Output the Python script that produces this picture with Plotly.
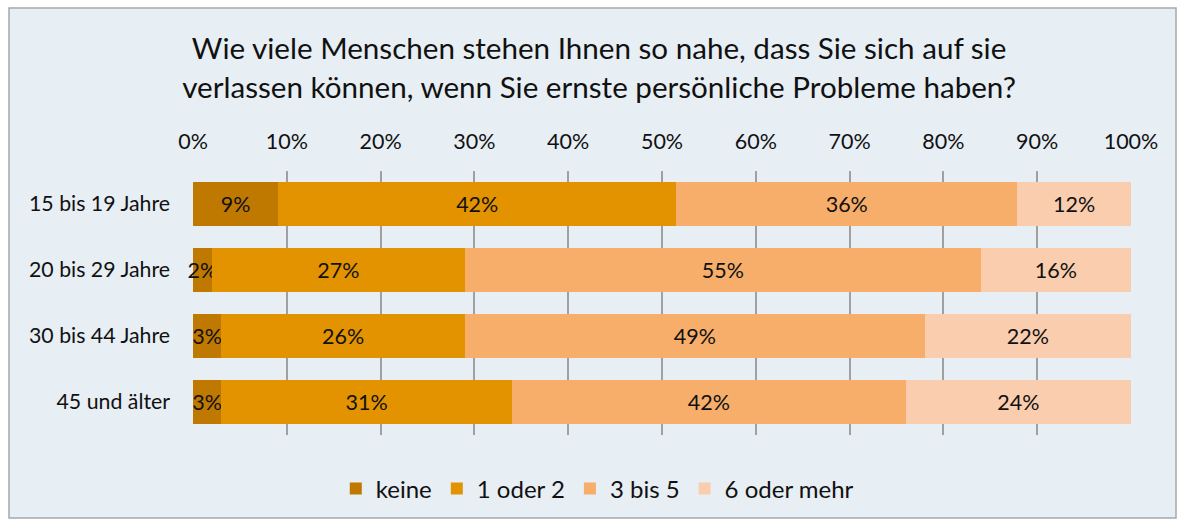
import plotly.graph_objects as go

categories = ["15 bis 19 Jahre", "20 bis 29 Jahre", "30 bis 44 Jahre", "45 und älter"]
keine = [9, 2, 3, 3]
eins_zwei = [42, 27, 26, 31]
drei_fuenf = [36, 55, 49, 42]
sechs_mehr = [12, 16, 22, 24]
series_names = ["keine", "1 oder 2", "3 bis 5", "6 oder mehr"]
tick_values = [0, 10, 20, 30, 40, 50, 60, 70, 80, 90, 100]
tick_labels = ["0%", "10%", "20%", "30%", "40%", "50%", "60%", "70%", "80%", "90%", "100%"]

colors = ["#BF7800", "#E39300", "#F6AE6A", "#F9CDAE"]
FONT = "Lato, Arial, sans-serif"

fig = go.Figure()
for name, vals, col in zip(series_names, [keine, eins_zwei, drei_fuenf, sechs_mehr], colors):
    fig.add_trace(go.Bar(
        name=name,
        y=categories,
        x=vals,
        orientation="h",
        marker=dict(color=col, line=dict(width=0)),
        text=[f"{v}%" for v in vals],
        textposition="inside",
        insidetextanchor="middle",
        textangle=0,
        constraintext="none",
        cliponaxis=False,
        textfont=dict(family=FONT, size=21.5, color="#111111"),
        hoverinfo="skip",
    ))

# chart frame behind everything
fig.add_shape(type="rect", xref="paper", yref="paper",
              x0=(9 - 193) / 938, x1=(1176 - 193) / 938,
              y0=(435 - 518) / 264, y1=(435 - 8) / 264,
              fillcolor="#E7EEF4", line=dict(color="#A8A8A8", width=1.5),
              layer="below")

fig.update_layout(
    barmode="stack",
    barnorm="percent",
    bargap=0.33,
    width=1184, height=525,
    margin=dict(l=193, r=53, t=171, b=90),
    paper_bgcolor="white",
    plot_bgcolor="rgba(0,0,0,0)",
    font=dict(family=FONT, color="#111111"),
    title=dict(
        text="Wie viele Menschen stehen Ihnen so nahe, dass Sie sich auf sie<br>verlassen können, wenn Sie ernste persönliche Probleme haben?",
        x=0.506, xref="container", xanchor="center",
        y=0.887, yref="container", yanchor="middle",
        font=dict(family=FONT, size=29.6, color="#111111"),
    ),
    xaxis=dict(
        side="top", range=[0, 100.001],
        tickvals=tick_values, ticktext=tick_labels,
        tickfont=dict(family=FONT, size=21.5, color="#111111"),
        showgrid=True, gridcolor="#A0A0A0", gridwidth=1.5,
        zeroline=False, showline=False, ticks="", ticklabelstandoff=17,
    ),
    yaxis=dict(
        categoryorder="array", categoryarray=categories, autorange="reversed",
        tickfont=dict(family=FONT, size=21.3, color="#111111"),
        showgrid=False, zeroline=False, showline=False, ticks="",
        ticklabelstandoff=22,
    ),
    legend=dict(
        orientation="h", x=0.431, xanchor="center", y=(435 - 489) / 264, yanchor="middle",
        font=dict(family=FONT, size=24, color="#111111"),
        bgcolor="rgba(0,0,0,0)", traceorder="normal",
    ),
    showlegend=True,
)

fig.write_html("out.html")
